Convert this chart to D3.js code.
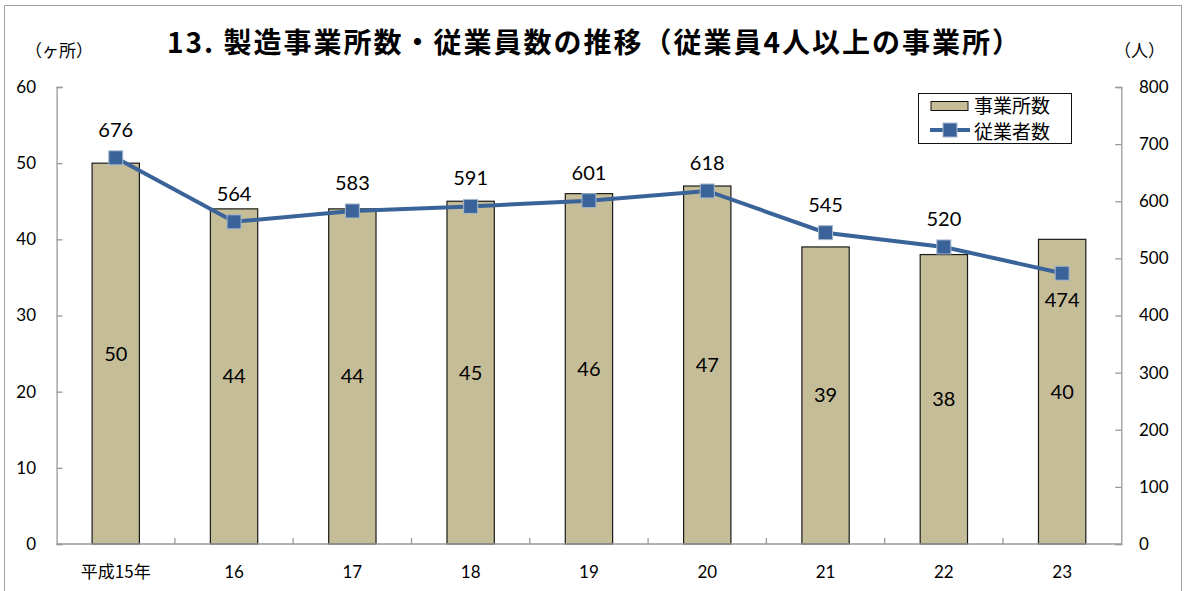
<!DOCTYPE html>
<html>
<head>
<meta charset="utf-8">
<script src="https://cdn.jsdelivr.net/npm/d3@7"></script>
<style>
    body { margin: 0; background: #fff; }
    #chartView { width: 1188px; height: 591px; }
</style>
</head>
<body>
<div id="chartView"></div>
<script>
// data
var years = ["平成15年", "16", "17", "18", "19", "20", "21", "22", "23"];
var offices = [50, 44, 44, 45, 46, 47, 39, 38, 40];
var workers = [676, 564, 583, 591, 601, 618, 545, 520, 474];
var leftTicks = [0, 10, 20, 30, 40, 50, 60];
var rightTicks = [0, 100, 200, 300, 400, 500, 600, 700, 800];

var width = 1188, height = 591;
var jpFont = "'Noto Sans CJK JP', sans-serif";
var numFont = "Lato, 'Noto Sans', sans-serif";
var barColor = "#c4bd97", lineColor = "#3a6499", axisColor = "#9a9a9a";

var svg = d3.select("#chartView").append("svg")
    .attr("width", width)
    .attr("height", height);

// outer frame
svg.append("rect")
    .attr("x", 4.5).attr("y", 5.5)
    .attr("width", 1177).attr("height", 600)
    .attr("fill", "none")
    .attr("stroke", "#a0a0a0");

var xScale = d3.scaleBand()
    .domain(years)
    .range([56.6, 1121.3])
    .paddingInner(0.6)
    .paddingOuter(0.3);
var yLeft = d3.scaleLinear().domain([0, 60]).range([544, 87]);
var yRight = d3.scaleLinear().domain([0, 800]).range([544, 87]);

// title
svg.append("text")
    .attr("x", 167).attr("y", 53)
    .attr("font-family", jpFont)
    .attr("font-weight", "bold")
    .attr("font-size", 28)
    .attr("textLength", 853)
    .attr("lengthAdjust", "spacing")
    .text("13. 製造事業所数・従業員数の推移（従業員4人以上の事業所）");

svg.append("text")
    .attr("x", 25).attr("y", 57)
    .attr("font-family", jpFont)
    .attr("font-size", 17)
    .text("（ヶ所）");
svg.append("text")
    .attr("x", 1114).attr("y", 57)
    .attr("font-family", jpFont)
    .attr("font-size", 17)
    .text("（人）");

// axes
var gLeft = svg.append("g")
    .attr("transform", "translate(56.6,0)")
    .call(d3.axisRight(yLeft).tickValues(leftTicks).tickSize(6).tickFormat(""));
var gRight = svg.append("g")
    .attr("transform", "translate(1121.3,0)")
    .call(d3.axisLeft(yRight).tickValues(rightTicks).tickSize(6).tickFormat(""));
[gLeft, gRight].forEach(function (g) {
    g.selectAll("path,line").attr("stroke", axisColor).attr("stroke-width", 1.3);
});

svg.append("g").selectAll("text")
    .data(leftTicks).enter().append("text")
    .attr("x", 36).attr("y", function (d) { return yLeft(d); })
    .attr("dy", "0.35em")
    .attr("text-anchor", "end")
    .attr("font-family", numFont)
    .attr("font-size", 17)
    .text(function (d) { return d; });
svg.append("g").selectAll("text")
    .data(rightTicks).enter().append("text")
    .attr("x", 1139).attr("y", function (d) { return yRight(d); })
    .attr("dy", "0.35em")
    .attr("font-family", numFont)
    .attr("font-size", 17)
    .text(function (d) { return d; });

// bars
svg.append("g").selectAll("rect")
    .data(offices).enter().append("rect")
    .attr("x", function (d, i) { return xScale(years[i]); })
    .attr("y", function (d) { return yLeft(d); })
    .attr("width", xScale.bandwidth())
    .attr("height", function (d) { return yLeft(0) - yLeft(d); })
    .attr("fill", barColor)
    .attr("stroke", "#1a1a1a")
    .attr("stroke-width", 1.2);

// x axis with ticks between categories
var step = xScale.step();
svg.append("line")
    .attr("x1", 56.6).attr("x2", 1121.3)
    .attr("y1", yLeft(0)).attr("y2", yLeft(0))
    .attr("stroke", axisColor).attr("stroke-width", 1.5);
svg.append("g").selectAll("line")
    .data(d3.range(1, years.length)).enter().append("line")
    .attr("x1", function (d) { return 56.6 + d * step; })
    .attr("x2", function (d) { return 56.6 + d * step; })
    .attr("y1", yLeft(0)).attr("y2", yLeft(0) - 6)
    .attr("stroke", axisColor).attr("stroke-width", 1.3);
svg.append("g").selectAll("text")
    .data(years).enter().append("text")
    .attr("x", function (d) { return xScale(d) + xScale.bandwidth() / 2; })
    .attr("y", 578)
    .attr("text-anchor", "middle")
    .attr("font-family", function (d, i) { return i == 0 ? jpFont : numFont; })
    .attr("font-size", 17)
    .text(function (d) { return d; });

// bar labels
svg.append("g").selectAll("text")
    .data(offices).enter().append("text")
    .attr("x", function (d, i) { return xScale(years[i]) + xScale.bandwidth() / 2; })
    .attr("y", function (d) { return (yLeft(d) + yLeft(0)) / 2; })
    .attr("dy", "0.35em")
    .attr("text-anchor", "middle")
    .attr("font-family", numFont)
    .attr("font-size", 20)
    .text(function (d) { return d; });

// line
var cx = function (d, i) { return xScale(years[i]) + xScale.bandwidth() / 2; };
var line_generator = d3.line()
    .x(function (d, i) { return cx(d, i); })
    .y(function (d) { return yRight(d); });
svg.append("path")
    .attr("d", line_generator(workers))
    .attr("fill", "none")
    .attr("stroke", lineColor)
    .attr("stroke-width", 4);
svg.append("g").selectAll("rect")
    .data(workers).enter().append("rect")
    .attr("x", function (d, i) { return cx(d, i) - 7; })
    .attr("y", function (d) { return yRight(d) - 7; })
    .attr("width", 14).attr("height", 14)
    .attr("fill", lineColor)
    .attr("stroke", "#a9b8cf")
    .attr("stroke-width", 1);
svg.append("g").selectAll("text")
    .data(workers).enter().append("text")
    .attr("x", function (d, i) { return cx(d, i); })
    .attr("y", function (d, i) { return i == workers.length - 1 ? yRight(d) + 34 : yRight(d) - 21; })
    .attr("text-anchor", "middle")
    .attr("font-family", numFont)
    .attr("font-size", 20)
    .text(function (d) { return d; });

// legend
var legend = svg.append("g");
legend.append("rect")
    .attr("x", 918.5).attr("y", 93.5)
    .attr("width", 153).attr("height", 50)
    .attr("fill", "#fff")
    .attr("stroke", "#111");
legend.append("rect")
    .attr("x", 931).attr("y", 101.5)
    .attr("width", 37).attr("height", 9)
    .attr("fill", barColor)
    .attr("stroke", "#111");
legend.append("line")
    .attr("x1", 930).attr("x2", 970)
    .attr("y1", 130).attr("y2", 130)
    .attr("stroke", lineColor).attr("stroke-width", 4);
legend.append("rect")
    .attr("x", 943).attr("y", 123)
    .attr("width", 14).attr("height", 14)
    .attr("fill", lineColor)
    .attr("stroke", "#a9b8cf");
legend.append("text")
    .attr("x", 974).attr("y", 113)
    .attr("font-family", jpFont)
    .attr("font-size", 19)
    .text("事業所数");
legend.append("text")
    .attr("x", 974).attr("y", 139)
    .attr("font-family", jpFont)
    .attr("font-size", 19)
    .text("従業者数");
</script>
</body>
</html>
